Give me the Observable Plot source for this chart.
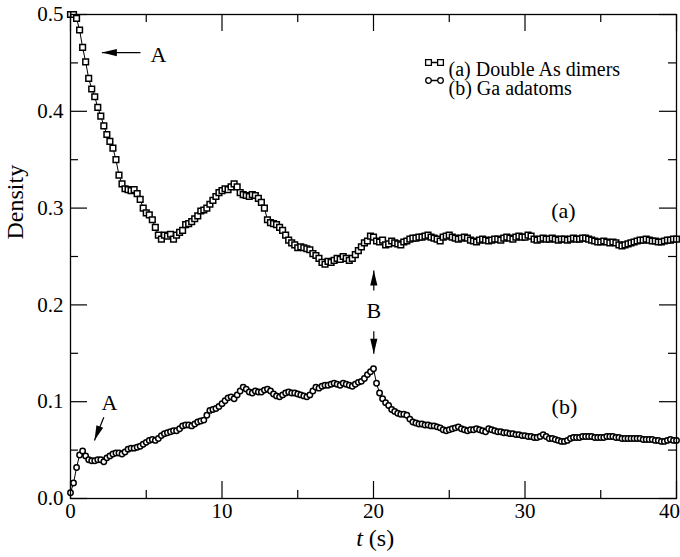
<!DOCTYPE html>
<html>
<head>
<meta charset="utf-8">
<script src="https://cdn.jsdelivr.net/npm/d3@7"></script>
<script src="https://cdn.jsdelivr.net/npm/@observablehq/plot@0.6"></script>
<style>
  body { margin: 0; background: #fff; }
  svg text { font-family: "Liberation Serif", "Times New Roman", serif; }
</style>
</head>
<body>
<div id="chart"></div>
<script>
// Sampling step of both series (seconds)
const timeStep = 0.2;

// (a) Double As dimers — density, one value every 0.2 s from t = 0 to 40
const doubleAsDimers = [
  0.500, 0.500, 0.496, 0.484, 0.466,  0.451, 0.434, 0.423, 0.415, 0.404,
  0.395, 0.385, 0.376, 0.369, 0.362,  0.350, 0.334, 0.325, 0.320, 0.319,
  0.318, 0.319, 0.315, 0.309, 0.300,  0.295, 0.293, 0.288, 0.280, 0.272,
  0.268, 0.272, 0.271, 0.273, 0.268,  0.272, 0.275, 0.277, 0.283, 0.284,
  0.286, 0.289, 0.292, 0.297, 0.298,  0.300, 0.304, 0.308, 0.312, 0.316,
  0.318, 0.320, 0.319, 0.322, 0.325,  0.322, 0.316, 0.314, 0.313, 0.312,
  0.314, 0.313, 0.310, 0.306, 0.300,  0.288, 0.285, 0.284, 0.283, 0.280,
  0.277, 0.272, 0.267, 0.264, 0.262,  0.259, 0.260, 0.259, 0.258, 0.257,
  0.253, 0.251, 0.248, 0.244, 0.242,  0.245, 0.244, 0.246, 0.248, 0.247,
  0.250, 0.248, 0.246, 0.248, 0.252,  0.256, 0.260, 0.264, 0.266, 0.271,
  0.270, 0.266, 0.265, 0.267, 0.262,  0.263, 0.266, 0.264, 0.263, 0.262,
  0.265, 0.266, 0.268, 0.269, 0.269,  0.270, 0.270, 0.271, 0.272, 0.270,
  0.269, 0.268, 0.266, 0.270, 0.271,  0.272, 0.270, 0.269, 0.268, 0.269,
  0.270, 0.269, 0.267, 0.266, 0.265,  0.267, 0.268, 0.267, 0.266, 0.267,
  0.268, 0.268, 0.267, 0.269, 0.270,  0.269, 0.268, 0.270, 0.271, 0.270,
  0.270, 0.272, 0.271, 0.268, 0.267,  0.268, 0.269, 0.268, 0.268, 0.269,
  0.268, 0.267, 0.268, 0.268, 0.267,  0.268, 0.269, 0.268, 0.268, 0.269,
  0.269, 0.268, 0.267, 0.266, 0.265,  0.265, 0.266, 0.265, 0.264, 0.265,
  0.264, 0.262, 0.261, 0.262, 0.263,  0.264, 0.265, 0.266, 0.267, 0.267,
  0.268, 0.267, 0.266, 0.266, 0.265,  0.265, 0.266, 0.267, 0.267, 0.268,
  0.268
];

// (b) Ga adatoms — density, one value every 0.2 s from t = 0 to 40
const gaAdatoms = [
  0.006, 0.016, 0.032, 0.045, 0.049,  0.044, 0.040, 0.039, 0.039, 0.040,
  0.040, 0.038, 0.042, 0.044, 0.046,  0.047, 0.047, 0.046, 0.048, 0.051,
  0.052, 0.052, 0.053, 0.054, 0.056,  0.058, 0.060, 0.061, 0.060, 0.062,
  0.065, 0.067, 0.068, 0.069, 0.070,  0.070, 0.072, 0.075, 0.076, 0.076,
  0.075, 0.077, 0.079, 0.080, 0.081,  0.086, 0.091, 0.092, 0.093, 0.095,
  0.098, 0.101, 0.104, 0.105, 0.103,  0.107, 0.111, 0.115, 0.113, 0.110,
  0.109, 0.111, 0.110, 0.110, 0.112,  0.113, 0.111, 0.108, 0.106, 0.105,
  0.107, 0.109, 0.110, 0.109, 0.109,  0.108, 0.107, 0.106, 0.105, 0.107,
  0.111, 0.115, 0.114, 0.116, 0.117,  0.117, 0.118, 0.119, 0.118, 0.117,
  0.119, 0.118, 0.117, 0.116, 0.118,  0.120, 0.121, 0.124, 0.128, 0.131,
  0.134, 0.119, 0.109, 0.103, 0.099,  0.096, 0.092, 0.090, 0.088, 0.087,
  0.087, 0.086, 0.082, 0.079, 0.078,  0.077, 0.077, 0.076, 0.076, 0.075,
  0.075, 0.074, 0.073, 0.071, 0.070,  0.071, 0.072, 0.073, 0.074, 0.072,
  0.071, 0.070, 0.071, 0.071, 0.072,  0.071, 0.070, 0.069, 0.072, 0.071,
  0.070, 0.069, 0.069, 0.068, 0.068,  0.067, 0.067, 0.066, 0.066, 0.065,
  0.065, 0.064, 0.064, 0.063, 0.063,  0.064, 0.066, 0.064, 0.062, 0.062,
  0.061, 0.060, 0.059, 0.059, 0.060,  0.062, 0.063, 0.063, 0.063, 0.064,
  0.064, 0.064, 0.064, 0.063, 0.063,  0.063, 0.063, 0.064, 0.064, 0.064,
  0.063, 0.063, 0.062, 0.062, 0.062,  0.062, 0.062, 0.062, 0.062, 0.061,
  0.061, 0.061, 0.061, 0.060, 0.060,  0.059, 0.059, 0.060, 0.061, 0.060,
  0.060
];

// Axis ticks
const xMajorTicks = [0, 10, 20, 30, 40];
const xMinorTicks = [5, 15, 25, 35];
const yMajorTicks = [0, 0.1, 0.2, 0.3, 0.4, 0.5];
const yMinorTicks = [0.05, 0.15, 0.25, 0.35, 0.45];

// Texts
const legendLabels = ["(a) Double As dimers", "(b) Ga adatoms"];
const yLabel = "Density";
const xLabelVar = "t";
const xLabelUnit = "(s)";

// Annotations (data coordinates)
const noteTexts = ["A", "A", "B", "(a)", "(b)"];
const noteT     = [5.81, 2.57, 20.02, 32.54, 32.6];
const noteV     = [0.4587, 0.0992, 0.1942, 0.2975, 0.095];

const arrowTailT = [4.62, 2.20, 20.02, 20.02];
const arrowTailV = [0.4607, 0.0840, 0.2149, 0.1728];
const arrowTipT  = [2.07, 1.58, 20.02, 20.02];
const arrowTipV  = [0.4607, 0.0599, 0.2355, 0.1495];
const arrowAngle = [-90, 201, 0, 180];

// ---- build tables ----
const seriesA = doubleAsDimers.map((v, i) => ({t: +(i * timeStep).toFixed(1), v}));
const seriesB = gaAdatoms.map((v, i) => ({t: +(i * timeStep).toFixed(1), v}));
const notes = noteTexts.map((s, i) => ({s, t: noteT[i], v: noteV[i]}));
const arrows = arrowTailT.map((_, i) => ({
  t1: arrowTailT[i], v1: arrowTailV[i], t2: arrowTipT[i], v2: arrowTipV[i], a: arrowAngle[i]
}));

// custom symbols
const arrowHead = {
  draw(ctx) {
    ctx.moveTo(0, 0);
    ctx.lineTo(3.6, 15);
    ctx.lineTo(-3.6, 15);
    ctx.closePath();
  }
};
const legendSquares = {
  draw(ctx) {
    const h = 2.9;
    ctx.rect(-6 - h, -h, 2 * h, 2 * h);
    ctx.rect(6 - h, -h, 2 * h, 2 * h);
    ctx.moveTo(-6 + h, 0); ctx.lineTo(6 - h, 0);
  }
};
const legendCircles = {
  draw(ctx) {
    const r = 2.8;
    ctx.moveTo(-6 + r, 0); ctx.arc(-6, 0, r, 0, 2 * Math.PI);
    ctx.moveTo(6 + r, 0); ctx.arc(6, 0, r, 0, 2 * Math.PI);
    ctx.moveTo(-6 + r, 0); ctx.lineTo(6 - r, 0);
  }
};

const W = 680, H = 557;
const mL = 70, mR = 4, mT = 14, mB = 59;
const frameW = W - mL - mR, frameH = H - mT - mB;
const majorLen = 17, minorLen = 8;
const serif = "Liberation Serif";
const fsTick = 21, fsTitle = 24, fsNote = 22, fsLegend = 20;

const chart = Plot.plot({
  width: W,
  height: H,
  marginLeft: mL,
  marginRight: mR,
  marginTop: mT,
  marginBottom: mB,
  style: {fontFamily: serif, fontSize: fsTick + "px", background: "white", color: "black", overflow: "visible"},
  x: {domain: [0, 40]},
  y: {domain: [0, 0.5]},
  marks: [
    // tick labels
    Plot.axisX(xMajorTicks.slice(0, -1), {tickSize: 0, tickPadding: 5, fontSize: fsTick, fontFamily: serif, label: null, tickFormat: d => String(d)}),
    Plot.axisX(xMajorTicks.slice(-1), {tickSize: 0, tickPadding: 5, dx: -7, fontSize: fsTick, fontFamily: serif, label: null, tickFormat: d => String(d)}),
    Plot.axisY(yMajorTicks, {tickSize: 0, tickPadding: 7, fontSize: fsTick, fontFamily: serif, label: null, tickFormat: d => d.toFixed(1)}),
    // inward ticks, all four sides
    Plot.tickX(xMajorTicks, {x: d => d, insetTop: frameH - majorLen, stroke: "black", strokeWidth: 1.2}),
    Plot.tickX(xMajorTicks, {x: d => d, insetBottom: frameH - majorLen, stroke: "black", strokeWidth: 1.2}),
    Plot.tickX(xMinorTicks, {x: d => d, insetTop: frameH - minorLen, stroke: "black", strokeWidth: 1.2}),
    Plot.tickX(xMinorTicks, {x: d => d, insetBottom: frameH - minorLen, stroke: "black", strokeWidth: 1.2}),
    Plot.tickY(yMajorTicks, {y: d => d, insetRight: frameW - majorLen, stroke: "black", strokeWidth: 1.2}),
    Plot.tickY(yMajorTicks, {y: d => d, insetLeft: frameW - majorLen, stroke: "black", strokeWidth: 1.2}),
    Plot.tickY(yMinorTicks, {y: d => d, insetRight: frameW - minorLen, stroke: "black", strokeWidth: 1.2}),
    Plot.tickY(yMinorTicks, {y: d => d, insetLeft: frameW - minorLen, stroke: "black", strokeWidth: 1.2}),
    // axis titles
    Plot.text([yLabel], {text: d => d, frameAnchor: "left", rotate: -90, dx: -55, dy: -17, fontSize: fsTitle, fontFamily: serif, fill: "black"}),
    Plot.text([xLabelVar], {text: d => d, frameAnchor: "bottom", dx: -14, dy: 47, fontSize: fsTitle, fontFamily: serif, fontStyle: "italic", fill: "black"}),
    Plot.text([xLabelUnit], {text: d => d, frameAnchor: "bottom", dx: 8, dy: 47, fontSize: fsTitle, fontFamily: serif, fill: "black"}),
    // series
    Plot.line(seriesA, {x: "t", y: "v", stroke: "black", strokeWidth: 1}),
    Plot.dot(seriesA, {x: "t", y: "v", symbol: "square", r: 3.2, fill: "white", stroke: "black", strokeWidth: 1.5}),
    Plot.line(seriesB, {x: "t", y: "v", stroke: "black", strokeWidth: 1}),
    Plot.dot(seriesB, {x: "t", y: "v", symbol: "circle", r: 2.7, fill: "white", stroke: "black", strokeWidth: 1.5}),
    // annotations
    Plot.link(arrows, {x1: "t1", y1: "v1", x2: "t2", y2: "v2", stroke: "black", strokeWidth: 1.2}),
    Plot.dot(arrows, {x: "t2", y: "v2", symbol: arrowHead, rotate: "a", fill: "black", stroke: "none", r: 5}),
    Plot.text(notes, {x: "t", y: "v", text: "s", fontSize: fsNote, fontFamily: serif, fill: "black"}),
    // legend
    Plot.dot([legendLabels[0]], {frameAnchor: "top-right", dx: -242, dy: 48, symbol: legendSquares, fill: "white", stroke: "black", strokeWidth: 1.3, r: 5}),
    Plot.dot([legendLabels[1]], {frameAnchor: "top-right", dx: -242, dy: 66, symbol: legendCircles, fill: "white", stroke: "black", strokeWidth: 1.3, r: 5}),
    Plot.text([legendLabels[0]], {text: d => d, frameAnchor: "top-right", dx: -228, dy: 47, textAnchor: "start", fontSize: fsLegend, fontFamily: serif, fill: "black"}),
    Plot.text([legendLabels[1]], {text: d => d, frameAnchor: "top-right", dx: -228, dy: 66, textAnchor: "start", fontSize: fsLegend, fontFamily: serif, fill: "black"}),
    Plot.frame({stroke: "black", strokeWidth: 1.3})
  ]
});

document.getElementById("chart").appendChild(chart);
</script>
</body>
</html>
